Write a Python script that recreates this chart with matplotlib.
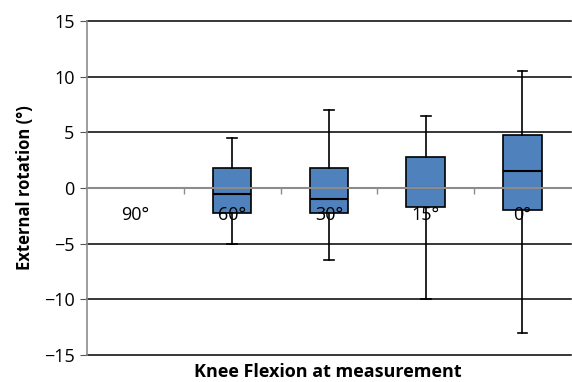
import matplotlib
matplotlib.use("Agg")
import matplotlib.pyplot as plt
import numpy as np

# knee flexion categories and box summaries (external rotation, degrees)
categories = ["90°", "60°", "30°", "15°", "0°"]
whisker_low = [np.nan, -5.0, -6.5, -10.0, -13.0]
q1 = [np.nan, -2.25, -2.25, -1.75, -2.0]
median = [np.nan, -0.5, -1.0, 0.0, 1.5]
q3 = [np.nan, 1.75, 1.75, 2.75, 4.75]
whisker_high = [np.nan, 4.5, 7.0, 6.5, 10.5]

plt.rcParams["font.family"] = ["Open Sans", "DejaVu Sans"]

fig = plt.figure(figsize=(5.72, 3.82), dpi=100)
ax = fig.add_axes([0.152, 0.071, 0.846, 0.874])

x = np.arange(len(categories))
stats = []
pos = []
for i in range(len(categories)):
    if np.isnan(median[i]):
        continue
    stats.append(dict(whislo=whisker_low[i], q1=q1[i], med=median[i],
                      q3=q3[i], whishi=whisker_high[i], fliers=[]))
    pos.append(x[i])

ax.bxp(stats, positions=pos, widths=0.4, patch_artist=True, showfliers=False,
       boxprops=dict(facecolor="#4F81BD", edgecolor="black", linewidth=1.2),
       medianprops=dict(color="black", linewidth=1.5),
       whiskerprops=dict(color="black", linewidth=1.2),
       capprops=dict(color="black", linewidth=1.2), capwidths=0.1)

ax.set_xlim(-0.5, len(categories) - 0.5)
ax.set_ylim(-15, 15)
ax.set_yticks(np.arange(-15, 16, 5))

for v in [-15, -10, -5, 5, 10, 15]:
    ax.axhline(v, color="black", lw=1.1, zorder=0.5, clip_on=False)

for s in ["top", "right"]:
    ax.spines[s].set_visible(False)
ax.spines["left"].set_color("#8c8c8c")
ax.spines["left"].set_linewidth(1.2)
ax.spines["bottom"].set_position(("data", 0))
ax.spines["bottom"].set_color("#8c8c8c")
ax.spines["bottom"].set_linewidth(1.5)
ax.spines["bottom"].set_zorder(5)

ax.set_xticks(x)
ax.set_xticklabels(categories, fontsize=13)
ax.set_xticks(x[:-1] + 0.5, minor=True)
ax.tick_params(axis="x", which="major", length=0, pad=13)
ax.tick_params(axis="x", which="minor", length=4, color="#8c8c8c", width=1)
ax.tick_params(axis="y", length=5, color="#555555", labelsize=13, pad=4)
ax.xaxis.set_zorder(6)

ax.set_ylabel("External rotation (°)", fontsize=12, fontweight="bold")
ax.yaxis.set_label_coords(-0.11, 0.5)
fig.text(0.573, 0.026, "Knee Flexion at measurement", fontsize=13,
         fontweight="bold", ha="center", va="center")

fig.savefig("out.png", dpi=100)
